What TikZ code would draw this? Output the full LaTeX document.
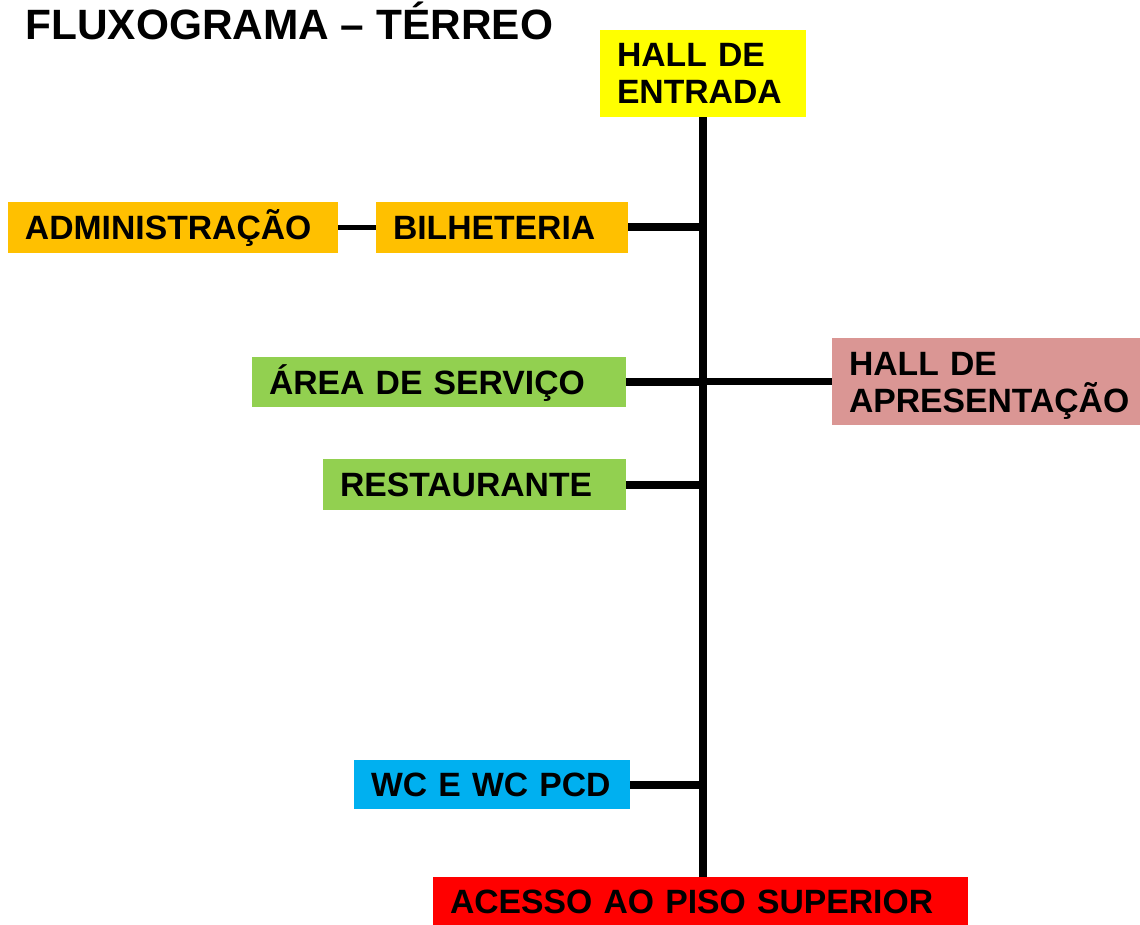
\documentclass[tikz,border=0pt]{standalone}
\usepackage{fontspec}
\setmainfont{Liberation Sans}
\definecolor{amarelo}{HTML}{FFFF00}
\definecolor{laranja}{HTML}{FFC000}
\definecolor{verde}{HTML}{92D050}
\definecolor{rosa}{HTML}{DA9694}
\definecolor{azul}{HTML}{00B0F0}
\definecolor{vermelho}{HTML}{FF0000}

\begin{document}
\begin{tikzpicture}[x=0.5pt,y=-0.5pt,
  box/.style={rectangle, inner xsep=8.5pt, inner ysep=0pt, align=left, text height=12pt, text depth=0pt, font=\bfseries\fontsize{16.85}{18.5}\selectfont},
  two line/.style={text height=12pt, text depth=18.5pt},
  link/.style={line width=4pt}]

  \useasboundingbox (0,0) rectangle (1140,925);

  \node[anchor=base west, inner sep=0pt, font=\bfseries\fontsize{21.2}{25}\selectfont] (titulo) at (25,40) {FLUXOGRAMA – TÉRREO};

  \node[box, two line, fill=amarelo, text width=86pt, minimum height=43.5pt] (entrada) at (703,73.5) {HALL DE\\ENTRADA};
  \node[box, fill=laranja, text width=148pt, minimum height=25.5pt] (admin) at (173,227.5) {ADMINISTRAÇÃO};
  \node[box, fill=laranja, text width=109pt, minimum height=25.5pt] (bilheteria) at (502,227.5) {BILHETERIA};
  \node[box, fill=verde, text width=170pt, minimum height=25pt] (servico) at (439,382) {ÁREA DE SERVIÇO};
  \node[box, two line, fill=rosa, text width=137pt, minimum height=43.5pt] (apresentacao) at (986,381.5) {HALL DE\\APRESENTAÇÃO};
  \node[box, fill=verde, text width=134.5pt, minimum height=25.5pt] (restaurante) at (474.5,484.5) {RESTAURANTE};
  \node[box, fill=azul, text width=121pt, minimum height=24.5pt] (wc) at (492,784.5) {WC E WC PCD};
  \node[box, fill=vermelho, text width=250.5pt, minimum height=24pt] (acesso) at (700.5,901) {ACESSO AO PISO SUPERIOR};

  \draw[link] (entrada.south) -- (entrada.south |- acesso.north);
  \draw[line width=2.5pt] (admin.east) -- (bilheteria.west);
  \draw[link] (bilheteria.east) -- (bilheteria.east -| entrada.south);
  \draw[link] (servico.east) -- (servico.east -| entrada.south);
  \draw[line width=3.5pt] (apresentacao.west) -- (apresentacao.west -| entrada.south);
  \draw[link] (restaurante.east) -- (restaurante.east -| entrada.south);
  \draw[link] (wc.east) -- (wc.east -| entrada.south);
\end{tikzpicture}
\end{document}
